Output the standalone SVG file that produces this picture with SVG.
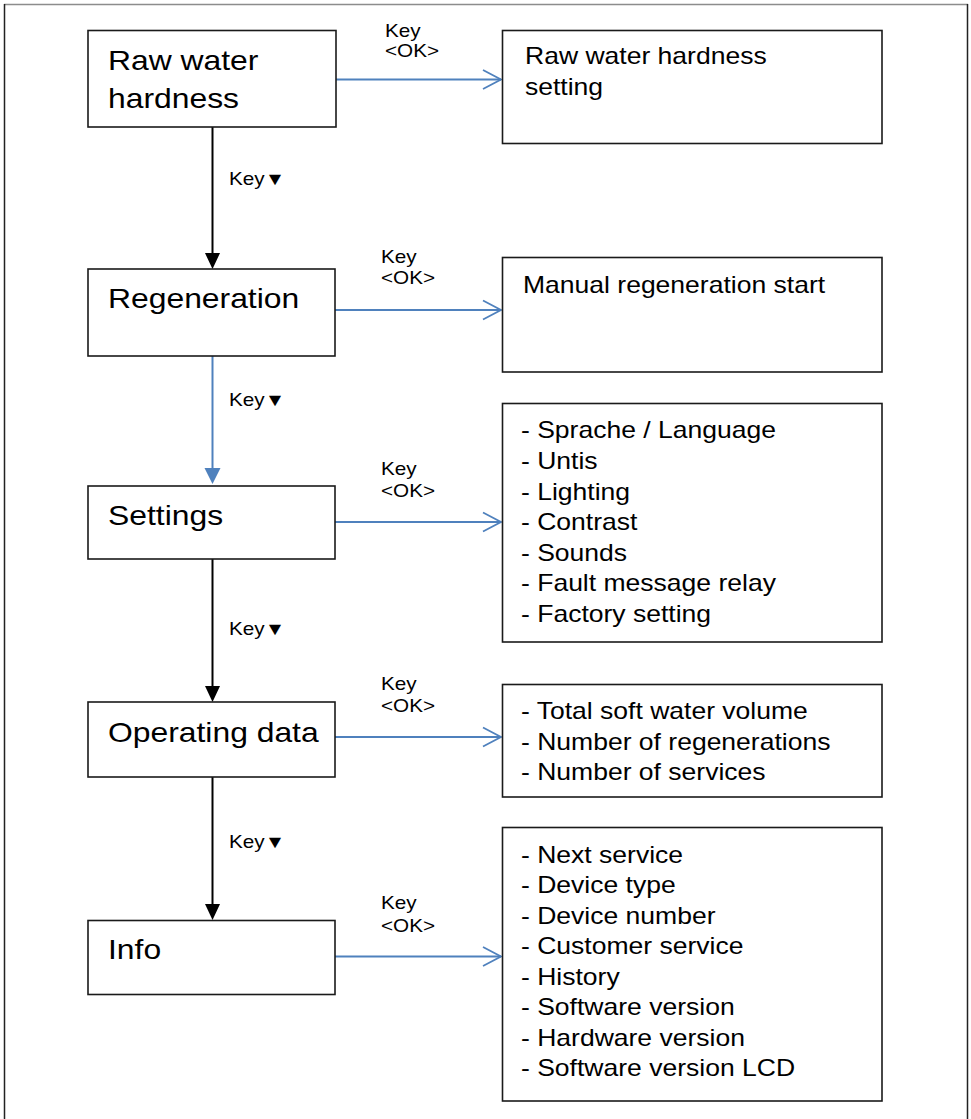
<svg xmlns="http://www.w3.org/2000/svg" width="971" height="1119" viewBox="0 0 971 1119">
  <style>
    .box { fill: #ffffff; stroke: #1a1a1a; stroke-width: 1.6; }
    .title { font-family: "Liberation Sans", Arial, sans-serif; font-size: 27px; fill: #000; }
    .item { font-family: "Liberation Sans", Arial, sans-serif; font-size: 24px; fill: #000; }
    .key { font-family: "Liberation Sans", "DejaVu Sans", Arial, sans-serif; font-size: 18px; fill: #000; }
    .down { stroke: #000; stroke-width: 2; fill: none; }
    .downblue { stroke: #4f81bd; stroke-width: 2; fill: none; }
    .ok { stroke: #4f81bd; stroke-width: 1.8; fill: none; }
  </style>
  <defs>
    <marker id="triBlack" markerUnits="userSpaceOnUse" markerWidth="16" markerHeight="15" refX="8" refY="7.5" orient="auto" overflow="visible">
      <path d="M0,0 L16,7.5 L0,15 z" fill="#000"/>
    </marker>
    <marker id="triBlue" markerUnits="userSpaceOnUse" markerWidth="16" markerHeight="16" refX="8" refY="8" orient="auto" overflow="visible">
      <path d="M0,0 L16,8 L0,16 z" fill="#4f81bd"/>
    </marker>
    <marker id="chev" markerUnits="userSpaceOnUse" markerWidth="20" markerHeight="21" refX="18" refY="9.5" orient="auto" overflow="visible">
      <path d="M0,0 L18,9.5 L0,19" fill="none" stroke="#4f81bd" stroke-width="1.8"/>
    </marker>
  </defs>

  <g id="frame">
    <line x1="4" y1="4.5" x2="968" y2="4.5" stroke="#8c8c8c" stroke-width="1.5"/>
    <line x1="4.5" y1="4" x2="4.5" y2="1119" stroke="#222" stroke-width="1.5"/>
    <line x1="967.5" y1="4" x2="967.5" y2="1119" stroke="#222" stroke-width="1.5"/>
  </g>

  <g id="connectors">
    <line class="down" x1="212.5" y1="127" x2="212.5" y2="261" marker-end="url(#triBlack)"/>
    <line class="downblue" x1="212.5" y1="356" x2="212.5" y2="476" marker-end="url(#triBlue)"/>
    <line class="down" x1="212.5" y1="559" x2="212.5" y2="694" marker-end="url(#triBlack)"/>
    <line class="down" x1="212.5" y1="777" x2="212.5" y2="912" marker-end="url(#triBlack)"/>

    <line class="ok" x1="336" y1="79.5" x2="501" y2="79.5" marker-end="url(#chev)"/>
    <line class="ok" x1="335" y1="310" x2="501" y2="310" marker-end="url(#chev)"/>
    <line class="ok" x1="335" y1="522" x2="501" y2="522" marker-end="url(#chev)"/>
    <line class="ok" x1="335" y1="737" x2="501" y2="737" marker-end="url(#chev)"/>
    <line class="ok" x1="335" y1="956.5" x2="501" y2="956.5" marker-end="url(#chev)"/>

    <g transform="translate(229,185) scale(1.15,1)"><text class="key" x="0" y="0">Key▼</text></g>
    <g transform="translate(229,406) scale(1.15,1)"><text class="key" x="0" y="0">Key▼</text></g>
    <g transform="translate(229,635) scale(1.15,1)"><text class="key" x="0" y="0">Key▼</text></g>
    <g transform="translate(229,848) scale(1.15,1)"><text class="key" x="0" y="0">Key▼</text></g>

    <g transform="translate(385,0) scale(1.15,1)"><text class="key" x="0" y="37">Key</text><text class="key" x="0" y="57.5">&lt;OK&gt;</text></g>
    <g transform="translate(381,0) scale(1.15,1)"><text class="key" x="0" y="263">Key</text><text class="key" x="0" y="284.5">&lt;OK&gt;</text></g>
    <g transform="translate(381,0) scale(1.15,1)"><text class="key" x="0" y="475">Key</text><text class="key" x="0" y="497">&lt;OK&gt;</text></g>
    <g transform="translate(381,0) scale(1.15,1)"><text class="key" x="0" y="690">Key</text><text class="key" x="0" y="712">&lt;OK&gt;</text></g>
    <g transform="translate(381,0) scale(1.15,1)"><text class="key" x="0" y="909">Key</text><text class="key" x="0" y="932">&lt;OK&gt;</text></g>
  </g>

  <g id="raw-water-hardness">
    <rect class="box" x="88" y="30.5" width="248" height="96.5"/>
    <g transform="translate(108,0) scale(1.18,1)">
      <text class="title" x="0" y="70.5">Raw water</text>
      <text class="title" x="0" y="108">hardness</text>
    </g>
  </g>
  <g id="regeneration">
    <rect class="box" x="88" y="269" width="247" height="87"/>
    <g transform="translate(108,0) scale(1.18,1)"><text class="title" x="0" y="308">Regeneration</text></g>
  </g>
  <g id="settings">
    <rect class="box" x="88" y="486" width="247" height="73"/>
    <g transform="translate(108,0) scale(1.18,1)"><text class="title" x="0" y="525">Settings</text></g>
  </g>
  <g id="operating-data">
    <rect class="box" x="88" y="702" width="247" height="75"/>
    <g transform="translate(108,0) scale(1.18,1)"><text class="title" x="0" y="742">Operating data</text></g>
  </g>
  <g id="info">
    <rect class="box" x="88" y="920.5" width="247" height="74"/>
    <g transform="translate(108,0) scale(1.18,1)"><text class="title" x="0" y="959">Info</text></g>
  </g>

  <g id="raw-water-hardness-setting">
    <rect class="box" x="502.5" y="30.5" width="379.5" height="113"/>
    <g transform="translate(525,0) scale(1.105,1)">
      <text class="item" x="0" y="64.5">Raw water hardness</text>
      <text class="item" x="0" y="95">setting</text>
    </g>
  </g>
  <g id="manual-regeneration-start">
    <rect class="box" x="502.5" y="257.5" width="379.5" height="114.5"/>
    <g transform="translate(523,0) scale(1.105,1)"><text class="item" x="0" y="293">Manual regeneration start</text></g>
  </g>
  <g id="settings-menu">
    <rect class="box" x="502.5" y="403.5" width="379.5" height="238.5"/>
    <g transform="translate(521,0) scale(1.105,1)">
      <text class="item" x="0" y="438.5">- Sprache / Language</text>
      <text class="item" x="0" y="469">- Untis</text>
      <text class="item" x="0" y="500">- Lighting</text>
      <text class="item" x="0" y="530.5">- Contrast</text>
      <text class="item" x="0" y="561">- Sounds</text>
      <text class="item" x="0" y="591.5">- Fault message relay</text>
      <text class="item" x="0" y="622.5">- Factory setting</text>
    </g>
  </g>
  <g id="operating-data-menu">
    <rect class="box" x="502.5" y="684.5" width="379.5" height="112.5"/>
    <g transform="translate(521,0) scale(1.105,1)">
      <text class="item" x="0" y="719.5">- Total soft water volume</text>
      <text class="item" x="0" y="750">- Number of regenerations</text>
      <text class="item" x="0" y="780">- Number of services</text>
    </g>
  </g>
  <g id="info-menu">
    <rect class="box" x="502.5" y="827.5" width="379.5" height="273.5"/>
    <g transform="translate(521,0) scale(1.105,1)">
      <text class="item" x="0" y="863">- Next service</text>
      <text class="item" x="0" y="893.5">- Device type</text>
      <text class="item" x="0" y="924">- Device number</text>
      <text class="item" x="0" y="954.5">- Customer service</text>
      <text class="item" x="0" y="985">- History</text>
      <text class="item" x="0" y="1015.5">- Software version</text>
      <text class="item" x="0" y="1046">- Hardware version</text>
      <text class="item" x="0" y="1076.5">- Software version LCD</text>
    </g>
  </g>
</svg>
